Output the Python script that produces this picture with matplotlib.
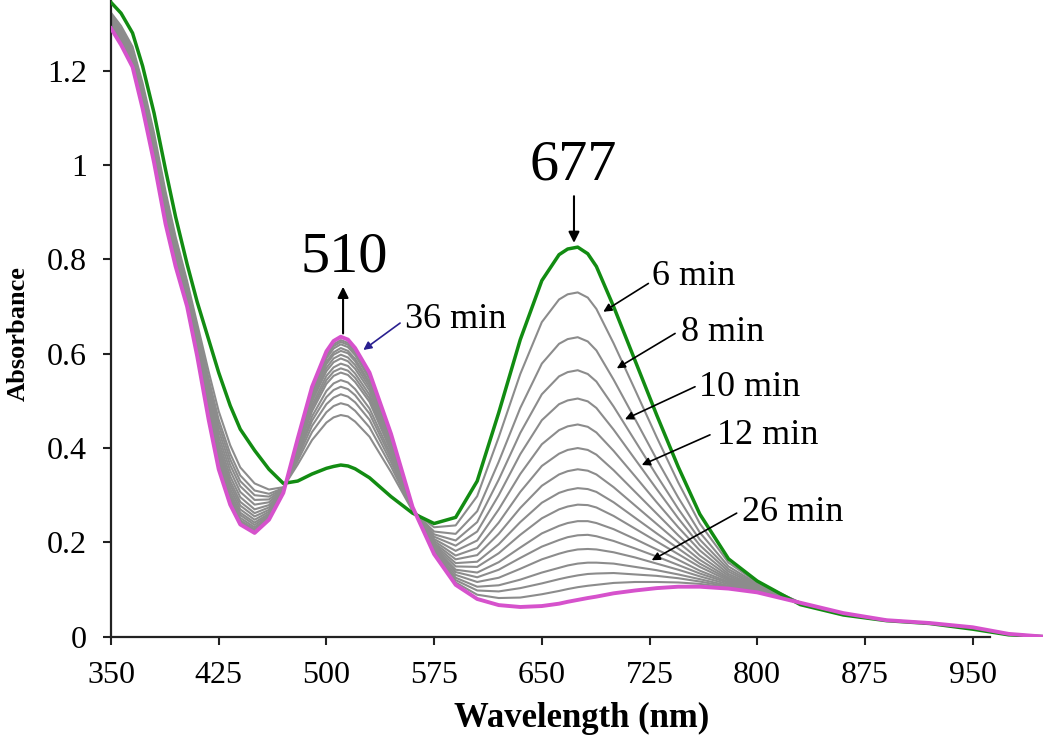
import matplotlib
matplotlib.use("Agg")
import matplotlib.pyplot as plt
from matplotlib.ticker import FuncFormatter

plt.rcParams['font.family'] = ['Liberation Serif', 'DejaVu Serif']

# ---------------- data ----------------
wavelength = [350, 357, 365, 372, 380, 388, 395, 403, 410, 418, 425, 433, 440,
              450, 460, 470, 480, 490, 500, 505, 510, 515, 520, 530, 545, 560,
              575, 590, 605, 620, 635, 650, 662, 668, 675, 682, 688, 700, 715,
              730, 745, 760, 780, 800]
wavelength_tail = [830, 860, 890, 920, 950, 975, 1000]

# first spectrum (green)
green_abs = [1.345, 1.322, 1.28, 1.21, 1.11, 0.99, 0.89, 0.79, 0.71, 0.63, 0.56,
             0.49, 0.44, 0.395, 0.355, 0.325, 0.33, 0.345, 0.357, 0.361, 0.364,
             0.362, 0.356, 0.337, 0.297, 0.262, 0.24, 0.253, 0.33, 0.475, 0.63,
             0.755, 0.81, 0.822, 0.826, 0.812, 0.785, 0.70, 0.585, 0.47, 0.36,
             0.26, 0.165, 0.118]
green_tail = [0.068, 0.046, 0.034, 0.028, 0.016, 0.004, 0.0]

# 36 min spectrum (magenta)
magenta_abs = [1.29, 1.255, 1.208, 1.12, 1.005, 0.875, 0.785, 0.70, 0.595, 0.46,
               0.355, 0.28, 0.238, 0.22, 0.248, 0.305, 0.42, 0.53, 0.605, 0.627,
               0.636, 0.63, 0.612, 0.56, 0.43, 0.275, 0.175, 0.11, 0.08, 0.067,
               0.063, 0.065, 0.07, 0.074, 0.078, 0.082, 0.085, 0.092, 0.098,
               0.103, 0.106, 0.106, 0.102, 0.094]
magenta_tail = [0.072, 0.05, 0.035, 0.029, 0.02, 0.006, 0.0]

# intermediate spectra (grey), 6 ... 34 min
gray_times = [6, 8, 10, 12, 14, 16, 18, 20, 22, 24, 26, 28, 30, 32, 34]
gray_6 = [1.323, 1.295, 1.251, 1.174, 1.068, 0.944, 0.848, 0.754, 0.664, 0.562,
          0.478, 0.406, 0.359, 0.325, 0.312, 0.317, 0.365, 0.417, 0.454, 0.465,
          0.470, 0.467, 0.456, 0.424, 0.349, 0.267, 0.232, 0.236, 0.298, 0.423,
          0.557, 0.667, 0.715, 0.726, 0.730, 0.719, 0.695, 0.622, 0.523, 0.423,
          0.327, 0.240, 0.157, 0.115]
gray_8 = [1.318, 1.289, 1.245, 1.166, 1.059, 0.934, 0.839, 0.746, 0.654, 0.547,
          0.460, 0.388, 0.342, 0.310, 0.303, 0.315, 0.373, 0.434, 0.476, 0.489,
          0.495, 0.491, 0.479, 0.444, 0.361, 0.268, 0.223, 0.218, 0.266, 0.371,
          0.485, 0.579, 0.621, 0.631, 0.635, 0.626, 0.607, 0.545, 0.461, 0.376,
          0.295, 0.221, 0.149, 0.112]
gray_10 = [1.315, 1.286, 1.241, 1.161, 1.053, 0.928, 0.833, 0.741, 0.648, 0.538,
           0.449, 0.376, 0.330, 0.300, 0.297, 0.314, 0.379, 0.447, 0.493, 0.507,
           0.514, 0.509, 0.497, 0.460, 0.370, 0.269, 0.217, 0.204, 0.243, 0.333,
           0.432, 0.514, 0.552, 0.561, 0.565, 0.557, 0.541, 0.488, 0.415, 0.342,
           0.271, 0.206, 0.143, 0.110]
gray_12 = [1.312, 1.282, 1.237, 1.156, 1.047, 0.921, 0.827, 0.736, 0.641, 0.528,
           0.437, 0.364, 0.319, 0.290, 0.291, 0.313, 0.385, 0.458, 0.508, 0.523,
           0.530, 0.525, 0.512, 0.473, 0.378, 0.270, 0.212, 0.193, 0.223, 0.300,
           0.387, 0.459, 0.493, 0.501, 0.505, 0.499, 0.485, 0.439, 0.376, 0.313,
           0.251, 0.194, 0.138, 0.108]
gray_14 = [1.309, 1.278, 1.233, 1.151, 1.041, 0.914, 0.821, 0.731, 0.634, 0.518,
           0.425, 0.352, 0.307, 0.280, 0.285, 0.312, 0.389, 0.467, 0.521, 0.537,
           0.544, 0.539, 0.525, 0.484, 0.385, 0.271, 0.207, 0.182, 0.204, 0.270,
           0.345, 0.408, 0.438, 0.446, 0.450, 0.445, 0.433, 0.394, 0.340, 0.285,
           0.232, 0.183, 0.133, 0.106]
gray_16 = [1.306, 1.274, 1.229, 1.146, 1.035, 0.908, 0.815, 0.726, 0.628, 0.509,
           0.414, 0.340, 0.296, 0.270, 0.279, 0.311, 0.395, 0.478, 0.536, 0.553,
           0.560, 0.555, 0.540, 0.498, 0.393, 0.271, 0.203, 0.172, 0.188, 0.242,
           0.307, 0.362, 0.388, 0.396, 0.400, 0.396, 0.386, 0.353, 0.307, 0.261,
           0.215, 0.172, 0.129, 0.104]
gray_18 = [1.303, 1.271, 1.225, 1.142, 1.030, 0.903, 0.810, 0.722, 0.623, 0.501,
           0.404, 0.330, 0.286, 0.262, 0.274, 0.310, 0.398, 0.485, 0.544, 0.562,
           0.569, 0.564, 0.549, 0.505, 0.397, 0.272, 0.199, 0.164, 0.173, 0.218,
           0.273, 0.320, 0.344, 0.351, 0.355, 0.352, 0.344, 0.317, 0.278, 0.239,
           0.200, 0.163, 0.125, 0.103]
gray_20 = [1.301, 1.268, 1.222, 1.138, 1.026, 0.898, 0.806, 0.718, 0.618, 0.494,
           0.396, 0.322, 0.278, 0.255, 0.269, 0.309, 0.401, 0.491, 0.553, 0.571,
           0.579, 0.574, 0.558, 0.513, 0.402, 0.272, 0.196, 0.156, 0.159, 0.196,
           0.243, 0.284, 0.305, 0.311, 0.315, 0.313, 0.307, 0.285, 0.252, 0.219,
           0.187, 0.155, 0.122, 0.102]
gray_22 = [1.299, 1.266, 1.220, 1.134, 1.022, 0.893, 0.802, 0.714, 0.613, 0.487,
           0.388, 0.314, 0.270, 0.248, 0.265, 0.308, 0.405, 0.499, 0.563, 0.582,
           0.590, 0.584, 0.568, 0.522, 0.407, 0.273, 0.193, 0.149, 0.148, 0.177,
           0.216, 0.251, 0.270, 0.276, 0.280, 0.279, 0.274, 0.256, 0.229, 0.202,
           0.175, 0.148, 0.119, 0.100]
gray_24 = [1.297, 1.263, 1.217, 1.131, 1.018, 0.889, 0.798, 0.711, 0.609, 0.481,
           0.381, 0.306, 0.263, 0.242, 0.261, 0.308, 0.407, 0.504, 0.570, 0.590,
           0.598, 0.592, 0.576, 0.529, 0.411, 0.273, 0.189, 0.142, 0.136, 0.158,
           0.189, 0.219, 0.235, 0.241, 0.245, 0.245, 0.241, 0.228, 0.207, 0.185,
           0.163, 0.140, 0.116, 0.099]
gray_26 = [1.295, 1.261, 1.215, 1.129, 1.015, 0.886, 0.795, 0.709, 0.606, 0.476,
           0.375, 0.300, 0.258, 0.237, 0.258, 0.307, 0.410, 0.510, 0.578, 0.598,
           0.606, 0.601, 0.584, 0.535, 0.415, 0.274, 0.187, 0.137, 0.126, 0.142,
           0.167, 0.191, 0.205, 0.211, 0.215, 0.216, 0.213, 0.203, 0.187, 0.170,
           0.152, 0.134, 0.114, 0.098]
gray_28 = [1.294, 1.260, 1.213, 1.126, 1.012, 0.883, 0.792, 0.706, 0.603, 0.472,
           0.369, 0.294, 0.252, 0.232, 0.255, 0.306, 0.412, 0.513, 0.583, 0.603,
           0.612, 0.606, 0.589, 0.540, 0.418, 0.274, 0.184, 0.131, 0.116, 0.125,
           0.144, 0.164, 0.176, 0.181, 0.185, 0.186, 0.185, 0.179, 0.168, 0.155,
           0.142, 0.128, 0.111, 0.097]
gray_30 = [1.293, 1.258, 1.211, 1.124, 1.010, 0.880, 0.790, 0.704, 0.600, 0.468,
           0.364, 0.290, 0.247, 0.228, 0.253, 0.306, 0.415, 0.519, 0.590, 0.611,
           0.620, 0.614, 0.597, 0.547, 0.422, 0.274, 0.182, 0.125, 0.106, 0.109,
           0.121, 0.136, 0.146, 0.151, 0.155, 0.157, 0.157, 0.155, 0.148, 0.141,
           0.132, 0.122, 0.108, 0.096]
gray_32 = [1.292, 1.257, 1.210, 1.123, 1.008, 0.878, 0.788, 0.703, 0.598, 0.465,
           0.361, 0.286, 0.244, 0.225, 0.251, 0.306, 0.416, 0.523, 0.595, 0.616,
           0.625, 0.619, 0.602, 0.551, 0.425, 0.274, 0.180, 0.120, 0.098, 0.096,
           0.103, 0.113, 0.122, 0.126, 0.130, 0.133, 0.134, 0.135, 0.132, 0.129,
           0.124, 0.117, 0.106, 0.096]
gray_34 = [1.291, 1.256, 1.209, 1.121, 1.006, 0.876, 0.786, 0.701, 0.596, 0.462,
           0.357, 0.282, 0.240, 0.222, 0.249, 0.305, 0.418, 0.525, 0.599, 0.620,
           0.629, 0.623, 0.606, 0.554, 0.427, 0.275, 0.177, 0.115, 0.089, 0.082,
           0.083, 0.090, 0.097, 0.101, 0.105, 0.108, 0.110, 0.114, 0.116, 0.116,
           0.115, 0.112, 0.104, 0.095]
gray_tail = [0.072, 0.048, 0.035, 0.028, 0.018, 0.005, 0.0]

gray_curves = [gray_6, gray_8, gray_10, gray_12, gray_14, gray_16, gray_18,
               gray_20, gray_22, gray_24, gray_26, gray_28, gray_30, gray_32,
               gray_34]

x_ticks = [350, 425, 500, 575, 650, 725, 800, 875, 950]
y_ticks = [0, 0.2, 0.4, 0.6, 0.8, 1.0, 1.2]

# ---------------- figure ----------------
W, H = 1050, 741
fig = plt.figure(figsize=(W / 100, H / 100), dpi=100)
ax = fig.add_axes([111 / W, 1 - 636.7 / H, 932 / W, 636.7 / H])

wl_full = wavelength + wavelength_tail
for curve in gray_curves:
    ax.plot(wl_full, curve + gray_tail, color='#8c8c8c', lw=1.5,
            solid_joinstyle='round', zorder=2)
ax.plot(wl_full, green_abs + green_tail, color='#128c12', lw=2.5,
        solid_joinstyle='round', zorder=3)
ax.plot(wl_full, magenta_abs + magenta_tail, color='#d652cc', lw=2.8,
        solid_joinstyle='round', zorder=4)

ax.set_xlim(350, 999)
ax.set_ylim(0, 1.35)
ax.set_xticks(x_ticks)
ax.set_yticks(y_ticks)
ax.yaxis.set_major_formatter(FuncFormatter(lambda v, p: '%g' % round(v, 2)))

for s in ['top', 'right']:
    ax.spines[s].set_visible(False)
ax.spines['bottom'].set_bounds(350, 962)
for s in ['left', 'bottom']:
    ax.spines[s].set_linewidth(1.6)
    ax.spines[s].set_color('#222222')
ax.tick_params(direction='out', length=5.5, width=1.5, color='#222222',
               labelsize=23, pad=12)
ax.set_facecolor('none')

fig.text(18 / W, 1 - 334 / H, 'Absorbance', rotation=90, ha='center',
         va='center', fontsize=19, fontweight='bold')
fig.text(582 / W, 1 - 718 / H, 'Wavelength (nm)', ha='center', va='center',
         fontsize=25, fontweight='bold')

# peak markers
ax.text(512.3, 0.805, '510', fontsize=42, ha='center', va='center')
ax.annotate('', xy=(511.6, 0.742), xytext=(511.6, 0.643),
            arrowprops=dict(arrowstyle='-|>', color='black', lw=1.5,
                            mutation_scale=16, shrinkA=0, shrinkB=0))
ax.text(671.7, 1.0, '677', fontsize=42, ha='center', va='center')
ax.annotate('', xy=(672.4, 0.835), xytext=(672.4, 0.934),
            arrowprops=dict(arrowstyle='-|>', color='black', lw=1.5,
                            mutation_scale=16, shrinkA=0, shrinkB=0))

# time labels: (text, text_x, text_y, arrow start, arrow tip, colour)
labels = [
    ('36 min', 590.3, 0.672, (551.3, 0.665), (525.7, 0.608), '#2a2090'),
    ('6 min', 756.0, 0.763, (724.2, 0.749), (692.8, 0.689), 'black'),
    ('8 min', 776.2, 0.644, (742.8, 0.643), (702.2, 0.569), 'black'),
    ('10 min', 795.0, 0.529, (756.7, 0.530), (707.9, 0.461), 'black'),
    ('12 min', 807.5, 0.426, (767.1, 0.428), (719.6, 0.364), 'black'),
    ('26 min', 824.9, 0.263, (785.7, 0.262), (726.5, 0.162), 'black'),
]
for txt, tx, ty, start, tip, col in labels:
    ax.text(tx, ty, txt, fontsize=26, ha='center', va='center')
    ax.annotate('', xy=tip, xytext=start,
                arrowprops=dict(arrowstyle='-|>', color=col, lw=1.2,
                                mutation_scale=12, shrinkA=0, shrinkB=0))

fig.savefig('out.png', dpi=100, facecolor='white')
